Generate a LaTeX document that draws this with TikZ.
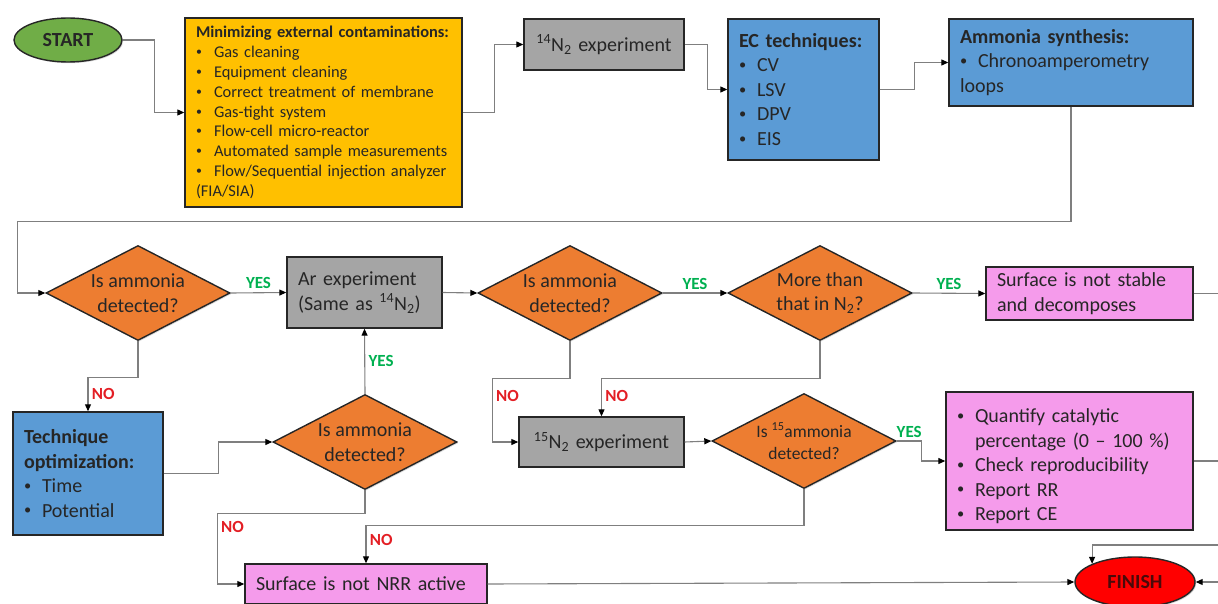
\documentclass[tikz,border=0pt]{standalone}
\usepackage{fontspec}
\setmainfont{Carlito}
\usetikzlibrary{arrows.meta,shapes.geometric,shadows}
\definecolor{ink}{HTML}{262626}
\definecolor{wire}{HTML}{7F7F7F}
\definecolor{amber}{HTML}{FFC000}
\definecolor{steel}{HTML}{A5A5A5}
\definecolor{sky}{HTML}{5B9BD5}
\definecolor{orchid}{HTML}{F59BEB}
\definecolor{rust}{HTML}{ED7D31}
\definecolor{leaf}{HTML}{70AD47}
\definecolor{alarm}{HTML}{FF0000}
\definecolor{ember}{HTML}{4A0A0A}
\definecolor{yesc}{HTML}{00B050}
\definecolor{noc}{HTML}{E31E24}
\newcommand{\bul}{\par\noindent\hangindent=18pt\hangafter=1\makebox[18pt][l]{\raisebox{.12em}{\scalebox{.72}{\textbullet}}}}
\newcommand{\Nt}[1]{\textsuperscript{#1}N\textsubscript{2}}
\tikzset{box/.style={draw=ink,line width=1.4pt,text=ink,align=left,inner xsep=11pt,inner ysep=0pt,font=\fontsize{20}{24.5}\selectfont,drop shadow={shadow xshift=1.2pt,shadow yshift=-1.2pt,opacity=.3}},
ask/.style={box,diamond,fill=rust,aspect=2,inner sep=0pt,align=center,minimum width=184pt,minimum height=95pt},
term/.style={box,ellipse,inner sep=0pt,align=center,font=\fontsize{20}{24}\selectfont\bfseries},
arr/.style={-{Triangle[length=7pt,width=6pt,color=black]},draw=wire,line width=1.1pt},
lnk/.style={draw=wire,line width=1.1pt},
yeslab/.style={text=yesc,font=\fontsize{17}{20}\selectfont\bfseries},
nolab/.style={text=noc,font=\fontsize{17}{20}\selectfont\bfseries}}

\begin{document}
\begin{tikzpicture}[x=1pt,y=-1pt]
\useasboundingbox (0,0) rectangle (1218,604);
% top row
\node[term,fill=leaf,minimum width=108pt,minimum height=44pt] (start) at (68,40) {START};
\node[box,fill=amber,text width=255pt,minimum height=189pt,font=\fontsize{16.4}{19.8}\selectfont] (clean) at (323.5,112.5) {\textbf{Minimizing external contaminations:}\bul Gas cleaning\bul Equipment cleaning\bul Correct treatment of membrane\bul Gas-tight system\bul Flow-cell micro-reactor\bul Automated sample measurements\bul Flow/Sequential injection analyzer\newline (FIA/SIA)};
\node[box,fill=steel,text width=138pt,minimum height=51pt,align=center] (nfourteen) at (604,44.5) {\Nt{14} experiment};
\node[box,fill=sky,text width=129pt,minimum height=141pt] (ectech) at (803.5,89.5) {\textbf{EC techniques:}\bul CV\bul LSV\bul DPV\bul EIS};
\node[box,fill=sky,text width=222pt,minimum height=87pt] (synth) at (1071,62.5) {\textbf{Ammonia synthesis:}\bul Chronoamperometry\newline loops};
% middle row
\node[ask] (detA) at (138,293) {Is ammonia\\detected?};
\node[box,fill=steel,text width=133pt,minimum height=71pt] (argon) at (364.5,292.5) {Ar experiment\\(Same as \Nt{14})};
\node[ask] (detB) at (570,293) {Is ammonia\\detected?};
\node[ask] (excess) at (820,293) {More than\\that in N\textsubscript{2}?};
\node[box,fill=orchid,text width=185pt,minimum height=53pt] (unstable) at (1089.5,293.5) {Surface is not stable\\and decomposes};
% bottom rows
\node[box,fill=sky,text width=128pt,minimum height=123pt] (optim) at (88,473.5) {\textbf{Technique}\\\textbf{optimization:}\bul Time\bul Potential};
\node[ask] (detC) at (365,442) {Is ammonia\\detected?};
\node[box,fill=steel,text width=143pt,minimum height=50pt,align=center] (nfifteen) at (601.5,442) {\Nt{15} experiment};
\node[ask,font=\fontsize{17.5}{22}\selectfont] (isotope) at (804,441) {Is \textsuperscript{15}ammonia\\detected?};
\node[box,fill=orchid,text width=225pt,minimum height=138pt] (report) at (1069.5,461) {\bul Quantify catalytic\newline percentage (0 -- 100~\%)\bul Check reproducibility\bul Report RR\bul Report CE};
\node[box,fill=orchid,text width=220pt,minimum height=40pt] (inactive) at (366,584) {Surface is not NRR active};
\node[term,fill=alarm,text=ember,minimum width=120pt,minimum height=50pt] (finish) at (1135,582) {FINISH};
% loose ends at the right margin
\coordinate (outA) at (1218,293.5);
\coordinate (outB) at (1218,461);
\coordinate (outC) at (1218,545);
\coordinate (outD) at (1218,582);
% connectors
\draw[arr] (start.east) -- ++(32,0) |- (clean.west);
\draw[arr] (clean.east) -- ++(32,0) |- (nfourteen.west);
\draw[arr] (nfourteen.east) -- ++(23,0) |- (ectech.west);
\draw[arr] (ectech.east) -- ++(35,0) |- (synth.west);
\draw[arr] (synth.south) -- ++(0,115) -| ([xshift=-28pt]detA.west) -- (detA.west);
\draw[arr] (detA.east) -- node[yeslab,above]{YES} (argon.west);
\draw[arr] (detA.south) -- ++(0,36) -| node[nolab,pos=.75,right]{NO} (optim.north);
\draw[arr] (optim.east) -- ++(55,0) |- (detC.west);
\draw[arr] (detC.north) -- node[yeslab,right]{YES} (argon.south);
\draw[arr] (detC.south) -- ++(0,23) -| node[nolab,pos=.6,right]{NO} ([xshift=-27pt]inactive.west) -- (inactive.west);
\draw[arr] (argon.east) -- (detB.west);
\draw[arr] (detB.east) -- node[yeslab,above]{YES} (excess.west);
\draw[arr] (excess.east) -- node[yeslab,above]{YES} (unstable.west);
\draw[lnk] (unstable.east) -- (outA);
\draw[arr] (detB.south) -- ++(0,37) -| node[nolab,pos=.64,right]{NO} ([xshift=-26pt]nfifteen.west) -- (nfifteen.west);
\draw[arr] (excess.south) -- ++(0,37) -| node[nolab,pos=.73,right]{NO} (nfifteen.north);
\draw[arr] (nfifteen.east) -- (isotope.west);
\draw[arr] (isotope.east) -- node[yeslab,above]{YES} ++(25,0) |- (report.west);
\draw[arr] (isotope.south) -- ++(0,36) -| node[nolab,pos=.69,right]{NO} (inactive.north);
\draw[arr] (inactive.east) -- (finish.west);
\draw[lnk] (report.east) -- (outB);
\draw[arr] (outC) -| (finish.north west);
\draw[arr] (outD) -- (finish.east);
\end{tikzpicture}
\end{document}
